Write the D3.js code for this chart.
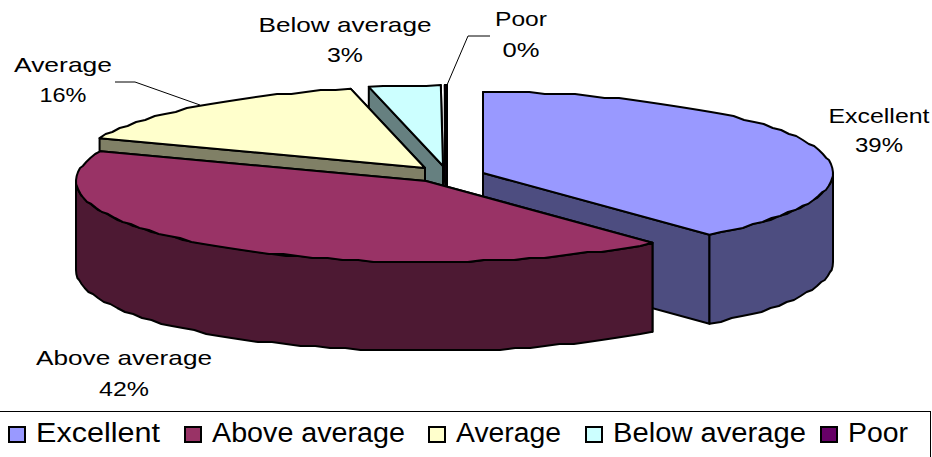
<!DOCTYPE html>
<html>
<head>
<meta charset="utf-8">
<script src="https://cdn.jsdelivr.net/npm/d3@7"></script>
<style>
  html, body { margin: 0; padding: 0; background: #fff; overflow: hidden; }
  text { font-family: "Liberation Sans", Arial, sans-serif; fill: #000; }
</style>
</head>
<body>
<script>
const width = 932;
const height = 457;

// the labels round these to whole percents
const categories = ["Excellent", "Above average", "Average", "Below average", "Poor"];
const values = [38.8, 42.2, 15.6, 3.3, 0.1];
const topColors = ["#9999ff", "#993366", "#ffffcc", "#ccffff", "#660066"];
const sideColors = ["#4d4d80", "#4d1933", "#808066", "#668080", "#330033"];

// where each exploded slice has its tip
const tips = [[483, 173], [426, 181], [425, 168], [443, 166], [447, 166]];
const rx = 350;
const ry = 81;
const depth = 89;

// painter's order, back slices first
const drawOrder = [3, 4, 2, 0, 1];

const labelBoxes = [
    {cx: 879, y: [123, 152], w: [101, 48]},
    {cx: 124, y: [365, 396], w: [176, 50]},
    {cx: 63, y: [72, 102], w: [98, 47]},
    {cx: 345, y: [32, 62], w: [173, 36]},
    {cx: 521, y: [26, 57], w: [52, 37]}
];
const legendX = [36, 212, 456, 613, 848];
const legendW = [124, 193, 105, 193, 60];
const leaders = [
    [[115, 82], [135, 82], [200, 105]],
    [[490, 36], [468, 36], [447, 85]]
];

const svg = d3.select("body").append("svg")
    .attr("width", width)
    .attr("height", height)
    .style("display", "block");

const pie = d3.pie().sort(null).value(d => d);
const slices = pie(values);
const pct = d3.format(".0%");
const total = d3.sum(values);
const line = d3.line();

// jagged rim like the resized screenshot
function rim(i, a0, a1, dy) {
    const n = Math.max(1, Math.ceil((a1 - a0) / 0.045));
    return d3.range(n + 1).map(k => {
        const a = a0 + (a1 - a0) * k / n;
        const x = tips[i][0] + rx * Math.sin(a);
        const y = tips[i][1] - ry * Math.cos(a) + dy;
        return k === 0 || k === n ? [x, y] : [x, Math.round(y / 2) * 2];
    });
}

function point(i, a, dy) {
    return [tips[i][0] + rx * Math.sin(a), tips[i][1] - ry * Math.cos(a) + dy];
}

const g = svg.append("g")
    .attr("stroke", "#000")
    .attr("stroke-width", 2)
    .attr("stroke-linejoin", "round");

drawOrder.forEach(i => {
    const s = slices[i];
    const tip = tips[i];
    const under = [tip[0], tip[1] + depth];

    // the two cut faces, the farther one first
    [s.startAngle, s.endAngle]
        .sort((a, b) => Math.cos(b) - Math.cos(a))
        .forEach(a => {
            g.append("path")
                .attr("d", line([tip, point(i, a, 0), point(i, a, depth), under]) + "Z")
                .attr("fill", sideColors[i]);
        });

    // outer wall, only the part that faces the viewer
    const a0 = Math.max(s.startAngle, Math.PI / 2);
    const a1 = Math.min(s.endAngle, Math.PI * 1.5);
    if (a1 > a0) {
        const pts = rim(i, a0, a1, 0).concat(rim(i, a0, a1, depth).reverse());
        g.append("path")
            .attr("d", line(pts) + "Z")
            .attr("fill", sideColors[i]);
    }

    g.append("path")
        .attr("d", line([tip].concat(rim(i, s.startAngle, s.endAngle, 0))) + "Z")
        .attr("fill", topColors[i]);
});

svg.append("g")
    .selectAll("path")
    .data(leaders)
    .enter()
    .append("path")
    .attr("d", d => line(d))
    .attr("fill", "none")
    .attr("stroke", "#000")
    .attr("stroke-width", 1);

labelBoxes.forEach((b, i) => {
    const rows = [categories[i], pct(values[i] / total)];
    rows.forEach((t, r) => {
        svg.append("text")
            .attr("x", b.cx)
            .attr("y", b.y[r])
            .attr("text-anchor", "middle")
            .attr("font-size", 21)
            .attr("textLength", b.w[r])
            .attr("lengthAdjust", "spacingAndGlyphs")
            .text(t);
    });
});

const legend = svg.append("g");
legend.append("rect")
    .attr("x", -2)
    .attr("y", 411.5)
    .attr("width", 932.5)
    .attr("height", 60)
    .attr("fill", "#fff")
    .attr("stroke", "#000")
    .attr("stroke-width", 1);

categories.forEach((c, i) => {
    legend.append("rect")
        .attr("x", legendX[i] - 27)
        .attr("y", 427)
        .attr("width", 16)
        .attr("height", 15)
        .attr("fill", topColors[i])
        .attr("stroke", "#000")
        .attr("stroke-width", 2);
    legend.append("text")
        .attr("x", legendX[i])
        .attr("y", 442)
        .attr("font-size", 27)
        .attr("textLength", legendW[i])
        .attr("lengthAdjust", "spacingAndGlyphs")
        .text(c);
});
</script>
</body>
</html>
